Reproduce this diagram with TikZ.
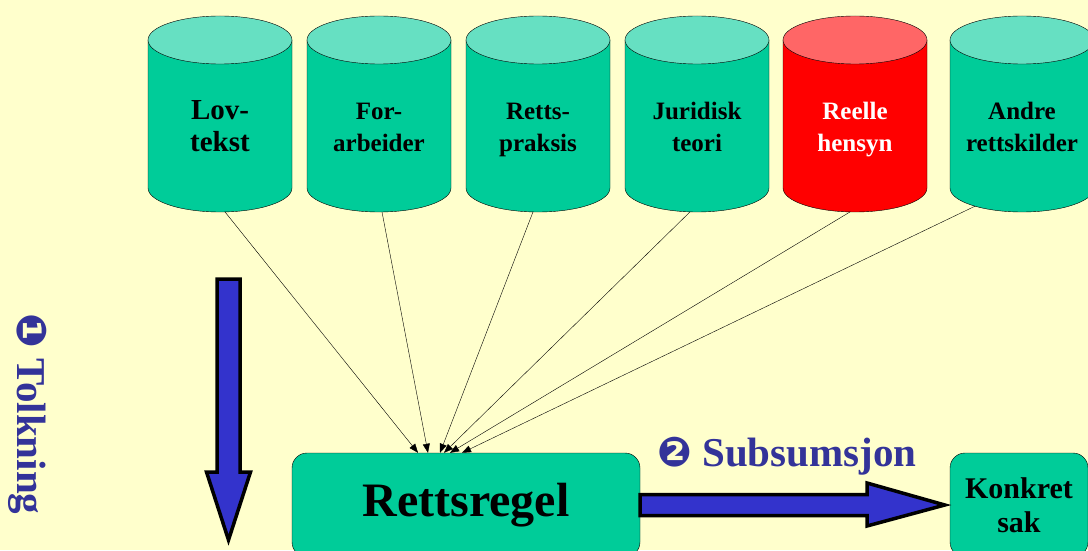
\documentclass[tikz,border=0pt]{standalone}
\usepackage{fontspec}
\setmainfont{Liberation Serif}
\newfontfamily\dingfont{DejaVu Sans}
\usetikzlibrary{arrows.meta}
\definecolor{bgyel}{HTML}{FFFFCC}\definecolor{cylbody}{HTML}{00CC99}\definecolor{cyltop}{HTML}{66E0C2}
\definecolor{redbody}{HTML}{FF0000}\definecolor{redtop}{HTML}{FF6666}
\definecolor{arrblue}{HTML}{3333CC}\definecolor{txtblue}{HTML}{333399}
\begin{document}
\begin{tikzpicture}[x=1pt,y=1pt,
  srcbox/.style={align=center,font=\bfseries},
  rulebox/.style={draw,fill=cylbody,rounded corners=15pt,font=\bfseries,align=center},
  fatarrow/.style={draw,fill=arrblue,line width=3.5pt,line join=miter},
  steplabel/.style={text=txtblue,font=\bfseries\fontsize{41}{45}\selectfont}]
\fill[bgyel] (0,0) rectangle (1088,550);\useasboundingbox (0,0) rectangle (1088,550);\clip (0,0) rectangle (1088,550);
\foreach \n/\x/\b/\tp/\s/\d/\tx/\t in {lov/148/cylbody/cyltop/29/5/black/{\strut Lov-\\\strut tekst},for/307/cylbody/cyltop/25/3/black/{\strut For-\\\strut arbeider},retts/466/cylbody/cyltop/25/-5/black/{\strut Retts-\\\strut praksis},jur/625/cylbody/cyltop/25/-7/black/{\strut Juridisk\\\strut teori},reelle/783/redbody/redtop/25/-5/white/{\strut Reelle\\\strut hensyn},andre/950/cylbody/cyltop/25/-47/black/{\strut Andre\\\strut rettskilder}}{
\fill[\b] (\x,510) -- (\x,362) arc[start angle=180,end angle=360,x radius=72pt,y radius=24pt] -- (\x+144,510) -- cycle;
\draw (\x,510) -- (\x,362) arc[start angle=180,end angle=360,x radius=72pt,y radius=24pt] -- (\x+144,510);
\filldraw[fill=\tp] (\x+72,510) ellipse[x radius=72pt,y radius=24pt];
\node[srcbox,text=\tx,font=\bfseries\fontsize{\s}{32}\selectfont] (\n) at (\x+72,420.5) {\t};
\coordinate (\n-b) at ({\x+72+\d},{362-24*sqrt(1-(\d/72)^2)});}
\node[rulebox,minimum width=348pt,minimum height=104pt,font=\bfseries\fontsize{48}{52}\selectfont] (regel) at (466,45) {Rettsregel};
\node[rulebox,minimum width=138pt,minimum height=104pt,font=\bfseries\fontsize{30}{34}\selectfont] (sak) at (1019,45) {Konkret\\sak};
\foreach \n/\e in {lov/-48,for/-38,retts/-26,jur/-22,reelle/-16,andre/-4}\draw[-{Triangle[length=9pt,width=7pt]}] (\n-b) -- ([xshift=\e pt]regel.north);
\draw[fatarrow] ([yshift=10.5pt]regel.east) -- (867,55.5) -- (867,67) -- ([xshift=-5pt]sak.west) -- (867,24) -- (867,34.5) -- ([yshift=-10.5pt]regel.east) -- cycle;
\coordinate (tk-top) at (228.5,271);\coordinate (tk-tip) at (228.5,10);
\draw[fatarrow] ([xshift=-11.5pt]tk-top) -- ([xshift=-11.5pt]tk-top|-0,78) -- (206.5,78) -- (tk-tip) -- (250.5,78) -- ([xshift=11.5pt]tk-top|-0,78) -- ([xshift=11.5pt]tk-top) -- cycle;
\node[steplabel,rotate=-90] (tolk) at (28,136) {{\dingfont ❶} Tolkning};
\node[steplabel] (subs) at (787,94) {{\dingfont ❷} Subsumsjon};
\end{tikzpicture}
\end{document}
